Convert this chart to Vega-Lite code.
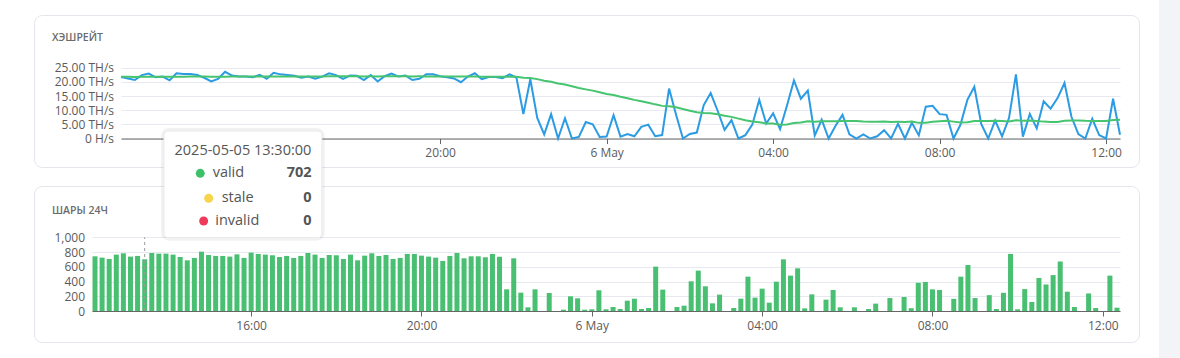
{
  "$schema": "https://vega.github.io/schema/vega-lite/v6.json",
  "padding": {"left": 33, "top": 0, "right": 0, "bottom": 0},
  "background": "#ffffff",
  "config": {
    "font": "Open Sans",
    "view": {"stroke": null},
    "axis": {"labelFont": "Open Sans", "labelFontSize": 12, "labelColor": "#5b5b5b", "titleFont": "Open Sans", "labelOverlap": false, "labelFlush": false},
    "title": {"font": "Open Sans"},
    "text": {"font": "Open Sans"}
  },
  "datasets": {
    "hover": [{"time": "2025-05-05T13:30", "valid": 702, "stale": 0, "invalid": 0}],
    "main": [
      {"time": "2025-05-05T12:20", "shares": 742, "hashrate": 21.76, "avg": 21.84},
      {"time": "2025-05-05T12:30", "shares": 724, "hashrate": 21.23, "avg": 21.82},
      {"time": "2025-05-05T12:40", "shares": 706, "hashrate": 20.70, "avg": 21.79},
      {"time": "2025-05-05T12:50", "shares": 765, "hashrate": 22.43, "avg": 21.81},
      {"time": "2025-05-05T13:00", "shares": 783, "hashrate": 22.96, "avg": 21.84},
      {"time": "2025-05-05T13:10", "shares": 738, "hashrate": 21.64, "avg": 21.83},
      {"time": "2025-05-05T13:20", "shares": 747, "hashrate": 21.90, "avg": 21.84},
      {"time": "2025-05-05T13:30", "shares": 702, "hashrate": 20.58, "avg": 21.80},
      {"time": "2025-05-05T13:40", "shares": 787, "hashrate": 23.07, "avg": 21.83},
      {"time": "2025-05-05T13:50", "shares": 778, "hashrate": 22.81, "avg": 21.86},
      {"time": "2025-05-05T14:00", "shares": 778, "hashrate": 22.81, "avg": 21.89},
      {"time": "2025-05-05T14:10", "shares": 765, "hashrate": 22.43, "avg": 21.90},
      {"time": "2025-05-05T14:20", "shares": 733, "hashrate": 21.49, "avg": 21.89},
      {"time": "2025-05-05T14:30", "shares": 688, "hashrate": 20.17, "avg": 21.85},
      {"time": "2025-05-05T14:40", "shares": 720, "hashrate": 21.11, "avg": 21.83},
      {"time": "2025-05-05T14:50", "shares": 805, "hashrate": 23.60, "avg": 21.88},
      {"time": "2025-05-05T15:00", "shares": 760, "hashrate": 22.28, "avg": 21.89},
      {"time": "2025-05-05T15:10", "shares": 747, "hashrate": 21.90, "avg": 21.89},
      {"time": "2025-05-05T15:20", "shares": 747, "hashrate": 21.90, "avg": 21.89},
      {"time": "2025-05-05T15:30", "shares": 738, "hashrate": 21.64, "avg": 21.89},
      {"time": "2025-05-05T15:40", "shares": 769, "hashrate": 22.55, "avg": 21.91},
      {"time": "2025-05-05T15:50", "shares": 720, "hashrate": 21.11, "avg": 21.89},
      {"time": "2025-05-05T16:00", "shares": 792, "hashrate": 23.22, "avg": 21.92},
      {"time": "2025-05-05T16:10", "shares": 774, "hashrate": 22.69, "avg": 21.95},
      {"time": "2025-05-05T16:20", "shares": 765, "hashrate": 22.43, "avg": 21.96},
      {"time": "2025-05-05T16:30", "shares": 756, "hashrate": 22.17, "avg": 21.97},
      {"time": "2025-05-05T16:40", "shares": 733, "hashrate": 21.49, "avg": 21.96},
      {"time": "2025-05-05T16:50", "shares": 747, "hashrate": 21.90, "avg": 21.96},
      {"time": "2025-05-05T17:00", "shares": 720, "hashrate": 21.11, "avg": 21.94},
      {"time": "2025-05-05T17:10", "shares": 747, "hashrate": 21.90, "avg": 21.95},
      {"time": "2025-05-05T17:20", "shares": 787, "hashrate": 23.07, "avg": 21.98},
      {"time": "2025-05-05T17:30", "shares": 765, "hashrate": 22.43, "avg": 22.00},
      {"time": "2025-05-05T17:40", "shares": 720, "hashrate": 21.11, "avg": 21.98},
      {"time": "2025-05-05T17:50", "shares": 760, "hashrate": 22.28, "avg": 21.99},
      {"time": "2025-05-05T18:00", "shares": 756, "hashrate": 22.17, "avg": 22.00},
      {"time": "2025-05-05T18:10", "shares": 706, "hashrate": 20.70, "avg": 21.97},
      {"time": "2025-05-05T18:20", "shares": 765, "hashrate": 22.43, "avg": 21.98},
      {"time": "2025-05-05T18:30", "shares": 688, "hashrate": 20.17, "avg": 21.95},
      {"time": "2025-05-05T18:40", "shares": 751, "hashrate": 22.02, "avg": 21.99},
      {"time": "2025-05-05T18:50", "shares": 783, "hashrate": 22.96, "avg": 22.01},
      {"time": "2025-05-05T19:00", "shares": 747, "hashrate": 21.90, "avg": 21.98},
      {"time": "2025-05-05T19:10", "shares": 760, "hashrate": 22.28, "avg": 21.99},
      {"time": "2025-05-05T19:20", "shares": 706, "hashrate": 20.70, "avg": 21.96},
      {"time": "2025-05-05T19:30", "shares": 720, "hashrate": 21.11, "avg": 21.98},
      {"time": "2025-05-05T19:40", "shares": 774, "hashrate": 22.69, "avg": 21.97},
      {"time": "2025-05-05T19:50", "shares": 774, "hashrate": 22.69, "avg": 21.96},
      {"time": "2025-05-05T20:00", "shares": 751, "hashrate": 22.02, "avg": 21.94},
      {"time": "2025-05-05T20:10", "shares": 738, "hashrate": 21.64, "avg": 21.92},
      {"time": "2025-05-05T20:20", "shares": 724, "hashrate": 21.23, "avg": 21.91},
      {"time": "2025-05-05T20:30", "shares": 679, "hashrate": 19.91, "avg": 21.90},
      {"time": "2025-05-05T20:40", "shares": 747, "hashrate": 21.90, "avg": 21.93},
      {"time": "2025-05-05T20:50", "shares": 787, "hashrate": 23.07, "avg": 21.91},
      {"time": "2025-05-05T21:00", "shares": 715, "hashrate": 20.96, "avg": 21.87},
      {"time": "2025-05-05T21:10", "shares": 742, "hashrate": 21.76, "avg": 21.87},
      {"time": "2025-05-05T21:20", "shares": 742, "hashrate": 21.76, "avg": 21.87},
      {"time": "2025-05-05T21:30", "shares": 729, "hashrate": 21.37, "avg": 21.86},
      {"time": "2025-05-05T21:40", "shares": 774, "hashrate": 22.69, "avg": 21.86},
      {"time": "2025-05-05T21:50", "shares": 736, "hashrate": 21.58, "avg": 21.88},
      {"time": "2025-05-05T22:00", "shares": 294, "hashrate": 8.62, "avg": 21.47},
      {"time": "2025-05-05T22:10", "shares": 715, "hashrate": 20.96, "avg": 21.42},
      {"time": "2025-05-05T22:20", "shares": 249, "hashrate": 7.30, "avg": 21.00},
      {"time": "2025-05-05T22:30", "shares": 50, "hashrate": 1.47, "avg": 20.43},
      {"time": "2025-05-05T22:40", "shares": 294, "hashrate": 8.62, "avg": 20.07},
      {"time": "2025-05-05T22:50", "shares": 0, "hashrate": 0, "avg": 19.46},
      {"time": "2025-05-05T23:00", "shares": 244, "hashrate": 7.15, "avg": 19.07},
      {"time": "2025-05-05T23:10", "shares": 0, "hashrate": 0, "avg": 18.47},
      {"time": "2025-05-05T23:20", "shares": 18, "hashrate": 0.53, "avg": 17.84},
      {"time": "2025-05-05T23:30", "shares": 199, "hashrate": 5.83, "avg": 17.38},
      {"time": "2025-05-05T23:40", "shares": 172, "hashrate": 5.04, "avg": 16.93},
      {"time": "2025-05-05T23:50", "shares": 18, "hashrate": 0.53, "avg": 16.33},
      {"time": "2025-05-06T00:00", "shares": 23, "hashrate": 0.67, "avg": 15.73},
      {"time": "2025-05-06T00:10", "shares": 281, "hashrate": 8.24, "avg": 15.38},
      {"time": "2025-05-06T00:20", "shares": 23, "hashrate": 0.67, "avg": 14.78},
      {"time": "2025-05-06T00:30", "shares": 54, "hashrate": 1.58, "avg": 14.26},
      {"time": "2025-05-06T00:40", "shares": 27, "hashrate": 0.79, "avg": 13.67},
      {"time": "2025-05-06T00:50", "shares": 140, "hashrate": 4.10, "avg": 13.15},
      {"time": "2025-05-06T01:00", "shares": 167, "hashrate": 4.90, "avg": 12.68},
      {"time": "2025-05-06T01:10", "shares": 27, "hashrate": 0.79, "avg": 12.08},
      {"time": "2025-05-06T01:20", "shares": 41, "hashrate": 1.20, "avg": 11.54},
      {"time": "2025-05-06T01:30", "shares": 602, "hashrate": 17.65, "avg": 11.44},
      {"time": "2025-05-06T01:40", "shares": 290, "hashrate": 8.50, "avg": 11.05},
      {"time": "2025-05-06T01:50", "shares": 0, "hashrate": 0, "avg": 10.42},
      {"time": "2025-05-06T02:00", "shares": 54, "hashrate": 1.58, "avg": 9.85},
      {"time": "2025-05-06T02:10", "shares": 72, "hashrate": 2.11, "avg": 9.31},
      {"time": "2025-05-06T02:20", "shares": 403, "hashrate": 11.82, "avg": 9.05},
      {"time": "2025-05-06T02:30", "shares": 548, "hashrate": 16.07, "avg": 8.94},
      {"time": "2025-05-06T02:40", "shares": 335, "hashrate": 9.82, "avg": 8.60},
      {"time": "2025-05-06T02:50", "shares": 104, "hashrate": 3.05, "avg": 8.05},
      {"time": "2025-05-06T03:00", "shares": 222, "hashrate": 6.51, "avg": 7.65},
      {"time": "2025-05-06T03:10", "shares": 0, "hashrate": 0, "avg": 7.04},
      {"time": "2025-05-06T03:20", "shares": 41, "hashrate": 1.20, "avg": 6.47},
      {"time": "2025-05-06T03:30", "shares": 167, "hashrate": 4.90, "avg": 6.01},
      {"time": "2025-05-06T03:40", "shares": 466, "hashrate": 13.66, "avg": 5.76},
      {"time": "2025-05-06T03:50", "shares": 181, "hashrate": 5.31, "avg": 5.31},
      {"time": "2025-05-06T04:00", "shares": 303, "hashrate": 8.88, "avg": 5.32},
      {"time": "2025-05-06T04:10", "shares": 113, "hashrate": 3.31, "avg": 4.83},
      {"time": "2025-05-06T04:20", "shares": 398, "hashrate": 11.67, "avg": 4.95},
      {"time": "2025-05-06T04:30", "shares": 701, "hashrate": 20.55, "avg": 5.48},
      {"time": "2025-05-06T04:40", "shares": 480, "hashrate": 14.07, "avg": 5.63},
      {"time": "2025-05-06T04:50", "shares": 579, "hashrate": 16.98, "avg": 6.10},
      {"time": "2025-05-06T05:00", "shares": 36, "hashrate": 1.06, "avg": 5.93},
      {"time": "2025-05-06T05:10", "shares": 226, "hashrate": 6.63, "avg": 6.12},
      {"time": "2025-05-06T05:20", "shares": 0, "hashrate": 0, "avg": 6.10},
      {"time": "2025-05-06T05:30", "shares": 154, "hashrate": 4.52, "avg": 6.07},
      {"time": "2025-05-06T05:40", "shares": 285, "hashrate": 8.36, "avg": 6.16},
      {"time": "2025-05-06T05:50", "shares": 50, "hashrate": 1.47, "avg": 6.18},
      {"time": "2025-05-06T06:00", "shares": 0, "hashrate": 0, "avg": 6.17},
      {"time": "2025-05-06T06:10", "shares": 50, "hashrate": 1.47, "avg": 5.98},
      {"time": "2025-05-06T06:20", "shares": 0, "hashrate": 0, "avg": 5.96},
      {"time": "2025-05-06T06:30", "shares": 27, "hashrate": 0.79, "avg": 5.94},
      {"time": "2025-05-06T06:40", "shares": 100, "hashrate": 2.93, "avg": 6.00},
      {"time": "2025-05-06T06:50", "shares": 0, "hashrate": 0, "avg": 5.88},
      {"time": "2025-05-06T07:00", "shares": 176, "hashrate": 5.16, "avg": 5.89},
      {"time": "2025-05-06T07:10", "shares": 0, "hashrate": 0, "avg": 5.87},
      {"time": "2025-05-06T07:20", "shares": 190, "hashrate": 5.57, "avg": 5.99},
      {"time": "2025-05-06T07:30", "shares": 38, "hashrate": 1.11, "avg": 5.53},
      {"time": "2025-05-06T07:40", "shares": 383, "hashrate": 11.23, "avg": 5.61},
      {"time": "2025-05-06T07:50", "shares": 394, "hashrate": 11.55, "avg": 5.93},
      {"time": "2025-05-06T08:00", "shares": 294, "hashrate": 8.62, "avg": 6.12},
      {"time": "2025-05-06T08:10", "shares": 285, "hashrate": 8.36, "avg": 6.29},
      {"time": "2025-05-06T08:20", "shares": 0, "hashrate": 0, "avg": 5.97},
      {"time": "2025-05-06T08:30", "shares": 165, "hashrate": 4.84, "avg": 5.65},
      {"time": "2025-05-06T08:40", "shares": 466, "hashrate": 13.66, "avg": 5.76},
      {"time": "2025-05-06T08:50", "shares": 624, "hashrate": 18.30, "avg": 6.18},
      {"time": "2025-05-06T09:00", "shares": 176, "hashrate": 5.16, "avg": 6.15},
      {"time": "2025-05-06T09:10", "shares": 0, "hashrate": 0, "avg": 6.15},
      {"time": "2025-05-06T09:20", "shares": 215, "hashrate": 6.30, "avg": 6.29},
      {"time": "2025-05-06T09:30", "shares": 27, "hashrate": 0.79, "avg": 6.18},
      {"time": "2025-05-06T09:40", "shares": 247, "hashrate": 7.24, "avg": 6.00},
      {"time": "2025-05-06T09:50", "shares": 774, "hashrate": 22.69, "avg": 6.48},
      {"time": "2025-05-06T10:00", "shares": 23, "hashrate": 0.67, "avg": 6.25},
      {"time": "2025-05-06T10:10", "shares": 297, "hashrate": 8.71, "avg": 6.40},
      {"time": "2025-05-06T10:20", "shares": 122, "hashrate": 3.58, "avg": 6.18},
      {"time": "2025-05-06T10:30", "shares": 448, "hashrate": 13.14, "avg": 5.97},
      {"time": "2025-05-06T10:40", "shares": 360, "hashrate": 10.56, "avg": 5.87},
      {"time": "2025-05-06T10:50", "shares": 487, "hashrate": 14.28, "avg": 5.80},
      {"time": "2025-05-06T11:00", "shares": 670, "hashrate": 19.64, "avg": 6.31},
      {"time": "2025-05-06T11:10", "shares": 262, "hashrate": 7.68, "avg": 6.34},
      {"time": "2025-05-06T11:20", "shares": 54, "hashrate": 1.58, "avg": 6.39},
      {"time": "2025-05-06T11:30", "shares": 0, "hashrate": 0, "avg": 6.26},
      {"time": "2025-05-06T11:40", "shares": 238, "hashrate": 6.98, "avg": 6.22},
      {"time": "2025-05-06T11:50", "shares": 41, "hashrate": 1.20, "avg": 6.22},
      {"time": "2025-05-06T12:00", "shares": 0, "hashrate": 0, "avg": 6.22},
      {"time": "2025-05-06T12:10", "shares": 480, "hashrate": 14.07, "avg": 6.57},
      {"time": "2025-05-06T12:20", "shares": 45, "hashrate": 1.32, "avg": 6.60}
    ]
  },
  "spacing": 19,
  "bounds": "full",
  "hconcat": [
    {
      "spacing": 0,
      "bounds": "flush",
      "vconcat": [
        {"width": 1105, "height": 15, "data": {"values": []}, "mark": "point", "view": {"stroke": null}},
        {
          "spacing": 19,
          "bounds": "flush",
          "vconcat": [
            {
              "width": 1105,
              "height": 152,
              "view": {"stroke": "#e3e6eb", "strokeWidth": 1, "cornerRadius": 8, "fill": "#ffffff"},
              "title": {"text": "ХЭШРЕЙТ", "anchor": "start", "frame": "group", "orient": "top", "offset": -33, "dx": 18, "baseline": "middle", "fontSize": 10.5, "fontWeight": 600, "letterSpacing": 0.8, "color": "#6b6b6b", "font": "Open Sans"},
              "data": {"name": "main"},
              "encoding": {
                "x": {
                  "field": "time", "type": "temporal",
                  "scale": {"domain": [{"year": 2025, "month": 5, "date": 5, "hours": 12, "minutes": 20}, {"year": 2025, "month": 5, "date": 6, "hours": 12, "minutes": 20}], "range": [87, 1086]},
                  "axis": {
                    "orient": "bottom", "offset": -28.5, "title": null, "grid": false,
                    "values": [{"year": 2025, "month": 5, "date": 5, "hours": 20}, {"year": 2025, "month": 5, "date": 6, "hours": 0}, {"year": 2025, "month": 5, "date": 6, "hours": 4}, {"year": 2025, "month": 5, "date": 6, "hours": 8}, {"year": 2025, "month": 5, "date": 6, "hours": 12}],
                    "labelExpr": "hours(datum.value) == 0 ? timeFormat(datum.value, '%-d %b') : timeFormat(datum.value, '%H:%M')",
                    "domainColor": "#666666", "tickColor": "#666666", "tickSize": 5, "labelPadding": 4, "labelFlush": false, "labelOverlap": false
                  }
                }
              },
              "layer": [
                {
                  "mark": {"type": "line", "color": "#2b9be3", "strokeWidth": 2},
                  "encoding": {
                    "y": {
                      "field": "hashrate", "type": "quantitative",
                      "scale": {"domain": [0, 25], "range": [123.5, 50]},
                      "axis": {"orient": "left", "offset": -79.5, "title": null, "values": [0, 5, 10, 15, 20, 25], "labelExpr": "datum.value == 0 ? '0 H/s' : format(datum.value, '.2f') + ' TH/s'", "domain": false, "ticks": false, "tickSize": 0, "labelPadding": 0, "labelOverlap": false, "labelFlush": false, "grid": true, "gridColor": "#e6e9ef"}
                    }
                  }
                },
                {
                  "mark": {"type": "line", "color": "#46c46f", "strokeWidth": 2},
                  "encoding": {
                    "y": {
                      "field": "avg", "type": "quantitative",
                      "axis": {"orient": "left", "offset": -79.5, "title": null, "values": [0, 5, 10, 15, 20, 25], "labelExpr": "datum.value == 0 ? '0 H/s' : format(datum.value, '.2f') + ' TH/s'", "domain": false, "ticks": false, "tickSize": 0, "labelPadding": 0, "labelOverlap": false, "labelFlush": false, "grid": true, "gridColor": "#e6e9ef"}
                    }
                  }
                }
              ]
            },
            {
              "width": 1105,
              "height": 156,
              "view": {"stroke": "#e3e6eb", "strokeWidth": 1, "cornerRadius": 8, "fill": "#ffffff"},
              "title": {"text": "ШАРЫ 24Ч", "anchor": "start", "frame": "group", "orient": "top", "offset": -93, "dx": 18, "baseline": "middle", "fontSize": 10.5, "fontWeight": 600, "letterSpacing": 0.8, "color": "#6b6b6b", "font": "Open Sans"},
              "layer": [
                {
                  "data": {"name": "main"},
                  "mark": {"type": "bar", "color": "#48bf71", "width": 5},
                  "encoding": {
                    "x": {
                      "field": "time", "type": "temporal",
                      "scale": {"domain": [{"year": 2025, "month": 5, "date": 5, "hours": 12, "minutes": 20}, {"year": 2025, "month": 5, "date": 6, "hours": 12, "minutes": 20}], "range": [58, 1086], "padding": 3},
                      "axis": {
                        "orient": "bottom", "offset": -31, "title": null, "grid": false,
                        "values": [{"year": 2025, "month": 5, "date": 5, "hours": 16}, {"year": 2025, "month": 5, "date": 5, "hours": 20}, {"year": 2025, "month": 5, "date": 6, "hours": 0}, {"year": 2025, "month": 5, "date": 6, "hours": 4}, {"year": 2025, "month": 5, "date": 6, "hours": 8}, {"year": 2025, "month": 5, "date": 6, "hours": 12}],
                        "labelExpr": "hours(datum.value) == 0 ? timeFormat(datum.value, '%-d %b') : timeFormat(datum.value, '%H:%M')",
                        "domainColor": "#666666", "tickColor": "#666666", "tickSize": 5, "labelPadding": 4, "labelFlush": false, "labelOverlap": false
                      }
                    },
                    "y": {
                      "field": "shares", "type": "quantitative",
                      "scale": {"domain": [0, 1000], "range": [125, 51.3]},
                      "axis": {"orient": "left", "offset": -50.5, "title": null, "values": [0, 200, 400, 600, 800, 1000], "labelExpr": "format(datum.value, ',')", "domain": false, "ticks": false, "tickSize": 0, "labelPadding": 0, "labelOverlap": false, "labelFlush": false, "grid": true, "gridColor": "#e6e9ef"}
                    }
                  }
                },
                {
                  "data": {"name": "hover"},
                  "mark": {"type": "rule", "color": "#9a9a9a", "strokeDash": [3, 3], "strokeWidth": 1},
                  "encoding": {
                    "x": {"field": "time", "type": "temporal"},
                    "y": {"datum": 0, "type": "quantitative", "axis": {"orient": "left", "offset": -50.5, "title": null, "values": [0, 200, 400, 600, 800, 1000], "labelExpr": "format(datum.value, ',')", "domain": false, "ticks": false, "tickSize": 0, "labelPadding": 0, "labelOverlap": false, "labelFlush": false, "grid": true, "gridColor": "#e6e9ef"}},
                    "y2": {"datum": 1000}
                  }
                },
                {
                  "data": {"name": "hover"},
                  "mark": {"type": "rect", "fill": null, "stroke": "#000000", "strokeOpacity": 0.05, "strokeWidth": 6, "cornerRadius": 5},
                  "encoding": {
                    "x": {"datum": {"year": 2025, "month": 5, "date": 5, "hours": 13, "minutes": 57, "seconds": 11}, "type": "temporal"},
                    "x2": {"datum": {"year": 2025, "month": 5, "date": 5, "hours": 17, "minutes": 39, "seconds": 41}},
                    "y": {"datum": 995, "type": "quantitative", "axis": {"orient": "left", "offset": -50.5, "title": null, "values": [0, 200, 400, 600, 800, 1000], "labelExpr": "format(datum.value, ',')", "domain": false, "ticks": false, "tickSize": 0, "labelPadding": 0, "labelOverlap": false, "labelFlush": false, "grid": true, "gridColor": "#e6e9ef"}},
                    "y2": {"datum": 2442}
                  }
                },
                {
                  "data": {"name": "hover"},
                  "mark": {"type": "rect", "fill": "#ffffff", "stroke": "#e9e9e9", "strokeWidth": 1, "cornerRadius": 4},
                  "encoding": {
                    "x": {"datum": {"year": 2025, "month": 5, "date": 5, "hours": 13, "minutes": 57, "seconds": 11}, "type": "temporal"},
                    "x2": {"datum": {"year": 2025, "month": 5, "date": 5, "hours": 17, "minutes": 39, "seconds": 41}},
                    "y": {"datum": 995, "type": "quantitative", "axis": {"orient": "left", "offset": -50.5, "title": null, "values": [0, 200, 400, 600, 800, 1000], "labelExpr": "format(datum.value, ',')", "domain": false, "ticks": false, "tickSize": 0, "labelPadding": 0, "labelOverlap": false, "labelFlush": false, "grid": true, "gridColor": "#e6e9ef"}},
                    "y2": {"datum": 2442}
                  }
                },
                {
                  "data": {"name": "hover"},
                  "mark": {"type": "text", "align": "center", "baseline": "middle", "fontSize": 14.5, "color": "#555555"},
                  "encoding": {
                    "x": {"datum": {"year": 2025, "month": 5, "date": 5, "hours": 15, "minutes": 48, "seconds": 26}, "type": "temporal"},
                    "y": {"datum": 2175, "type": "quantitative", "axis": {"orient": "left", "offset": -50.5, "title": null, "values": [0, 200, 400, 600, 800, 1000], "labelExpr": "format(datum.value, ',')", "domain": false, "ticks": false, "tickSize": 0, "labelPadding": 0, "labelOverlap": false, "labelFlush": false, "grid": true, "gridColor": "#e6e9ef"}},
                    "text": {"field": "time", "type": "temporal", "format": "%Y-%m-%d %H:%M:%S"}
                  }
                },
                {
                  "data": {"name": "hover"},
                  "mark": {"type": "point", "filled": true, "size": 80, "color": "#3ec06b", "opacity": 1},
                  "encoding": {
                    "x": {"datum": {"year": 2025, "month": 5, "date": 5, "hours": 14, "minutes": 48, "seconds": 18}, "type": "temporal"},
                    "y": {"datum": 1868, "type": "quantitative", "axis": {"orient": "left", "offset": -50.5, "title": null, "values": [0, 200, 400, 600, 800, 1000], "labelExpr": "format(datum.value, ',')", "domain": false, "ticks": false, "tickSize": 0, "labelPadding": 0, "labelOverlap": false, "labelFlush": false, "grid": true, "gridColor": "#e6e9ef"}}
                  }
                },
                {
                  "data": {"name": "hover"},
                  "mark": {"type": "point", "filled": true, "size": 80, "color": "#f7d44c", "opacity": 1},
                  "encoding": {
                    "x": {"datum": {"year": 2025, "month": 5, "date": 5, "hours": 15, "minutes": 0, "seconds": 8}, "type": "temporal"},
                    "y": {"datum": 1529, "type": "quantitative", "axis": {"orient": "left", "offset": -50.5, "title": null, "values": [0, 200, 400, 600, 800, 1000], "labelExpr": "format(datum.value, ',')", "domain": false, "ticks": false, "tickSize": 0, "labelPadding": 0, "labelOverlap": false, "labelFlush": false, "grid": true, "gridColor": "#e6e9ef"}}
                  }
                },
                {
                  "data": {"name": "hover"},
                  "mark": {"type": "point", "filled": true, "size": 80, "color": "#ee3b5b", "opacity": 1},
                  "encoding": {
                    "x": {"datum": {"year": 2025, "month": 5, "date": 5, "hours": 14, "minutes": 53, "seconds": 5}, "type": "temporal"},
                    "y": {"datum": 1221, "type": "quantitative", "axis": {"orient": "left", "offset": -50.5, "title": null, "values": [0, 200, 400, 600, 800, 1000], "labelExpr": "format(datum.value, ',')", "domain": false, "ticks": false, "tickSize": 0, "labelPadding": 0, "labelOverlap": false, "labelFlush": false, "grid": true, "gridColor": "#e6e9ef"}}
                  }
                },
                {
                  "data": {"name": "hover"},
                  "mark": {"type": "text", "text": "valid", "align": "left", "baseline": "middle", "fontSize": 14.5, "color": "#555555"},
                  "encoding": {
                    "x": {"datum": {"year": 2025, "month": 5, "date": 5, "hours": 15, "minutes": 5, "seconds": 46}, "type": "temporal"},
                    "y": {"datum": 1868, "type": "quantitative", "axis": {"orient": "left", "offset": -50.5, "title": null, "values": [0, 200, 400, 600, 800, 1000], "labelExpr": "format(datum.value, ',')", "domain": false, "ticks": false, "tickSize": 0, "labelPadding": 0, "labelOverlap": false, "labelFlush": false, "grid": true, "gridColor": "#e6e9ef"}}
                  }
                },
                {
                  "data": {"name": "hover"},
                  "mark": {"type": "text", "text": "stale", "align": "left", "baseline": "middle", "fontSize": 14.5, "color": "#555555"},
                  "encoding": {
                    "x": {"datum": {"year": 2025, "month": 5, "date": 5, "hours": 15, "minutes": 18, "seconds": 26}, "type": "temporal"},
                    "y": {"datum": 1529, "type": "quantitative", "axis": {"orient": "left", "offset": -50.5, "title": null, "values": [0, 200, 400, 600, 800, 1000], "labelExpr": "format(datum.value, ',')", "domain": false, "ticks": false, "tickSize": 0, "labelPadding": 0, "labelOverlap": false, "labelFlush": false, "grid": true, "gridColor": "#e6e9ef"}}
                  }
                },
                {
                  "data": {"name": "hover"},
                  "mark": {"type": "text", "text": "invalid", "align": "left", "baseline": "middle", "fontSize": 14.5, "color": "#555555"},
                  "encoding": {
                    "x": {"datum": {"year": 2025, "month": 5, "date": 5, "hours": 15, "minutes": 9, "seconds": 25}, "type": "temporal"},
                    "y": {"datum": 1221, "type": "quantitative", "axis": {"orient": "left", "offset": -50.5, "title": null, "values": [0, 200, 400, 600, 800, 1000], "labelExpr": "format(datum.value, ',')", "domain": false, "ticks": false, "tickSize": 0, "labelPadding": 0, "labelOverlap": false, "labelFlush": false, "grid": true, "gridColor": "#e6e9ef"}}
                  }
                },
                {
                  "data": {"name": "hover"},
                  "mark": {"type": "text", "align": "right", "baseline": "middle", "fontSize": 14.5, "fontWeight": 700, "color": "#555555"},
                  "encoding": {
                    "x": {"datum": {"year": 2025, "month": 5, "date": 5, "hours": 17, "minutes": 25, "seconds": 11}, "type": "temporal"},
                    "y": {"datum": 1868, "type": "quantitative", "axis": {"orient": "left", "offset": -50.5, "title": null, "values": [0, 200, 400, 600, 800, 1000], "labelExpr": "format(datum.value, ',')", "domain": false, "ticks": false, "tickSize": 0, "labelPadding": 0, "labelOverlap": false, "labelFlush": false, "grid": true, "gridColor": "#e6e9ef"}},
                    "text": {"field": "valid", "type": "quantitative"}
                  }
                },
                {
                  "data": {"name": "hover"},
                  "mark": {"type": "text", "align": "right", "baseline": "middle", "fontSize": 14.5, "fontWeight": 700, "color": "#555555"},
                  "encoding": {
                    "x": {"datum": {"year": 2025, "month": 5, "date": 5, "hours": 17, "minutes": 25, "seconds": 11}, "type": "temporal"},
                    "y": {"datum": 1529, "type": "quantitative", "axis": {"orient": "left", "offset": -50.5, "title": null, "values": [0, 200, 400, 600, 800, 1000], "labelExpr": "format(datum.value, ',')", "domain": false, "ticks": false, "tickSize": 0, "labelPadding": 0, "labelOverlap": false, "labelFlush": false, "grid": true, "gridColor": "#e6e9ef"}},
                    "text": {"field": "stale", "type": "quantitative"}
                  }
                },
                {
                  "data": {"name": "hover"},
                  "mark": {"type": "text", "align": "right", "baseline": "middle", "fontSize": 14.5, "fontWeight": 700, "color": "#555555"},
                  "encoding": {
                    "x": {"datum": {"year": 2025, "month": 5, "date": 5, "hours": 17, "minutes": 25, "seconds": 11}, "type": "temporal"},
                    "y": {"datum": 1221, "type": "quantitative", "axis": {"orient": "left", "offset": -50.5, "title": null, "values": [0, 200, 400, 600, 800, 1000], "labelExpr": "format(datum.value, ',')", "domain": false, "ticks": false, "tickSize": 0, "labelPadding": 0, "labelOverlap": false, "labelFlush": false, "grid": true, "gridColor": "#e6e9ef"}},
                    "text": {"field": "invalid", "type": "quantitative"}
                  }
                }
              ]
            }
          ]
        }
      ]
    },
    {"width": 23, "height": 358, "data": {"values": []}, "mark": "point", "view": {"fill": "#f3f4f7", "stroke": null}}
  ]
}
